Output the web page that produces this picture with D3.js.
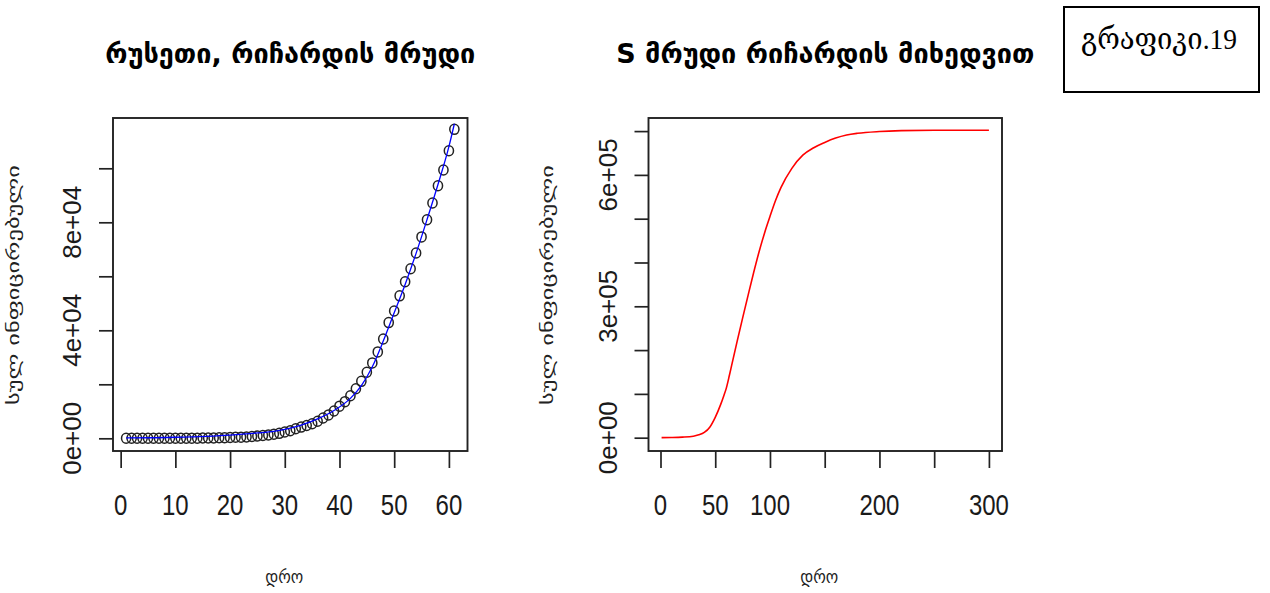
<!DOCTYPE html>
<html><head><meta charset="utf-8">
<script src="https://cdn.jsdelivr.net/npm/d3@7"></script>
<style>body{margin:0;background:#fff}svg{display:block}</style>
</head><body><svg id="c" width="1270" height="593"></svg>
<script>
// Left panel: observed cumulative cases, day index 1..61
const cases = [3,3,3,4,13,13,17,17,20,20,28,45,59,63,90,114,147,199,253,306,367,438,495,658,840,1036,1264,1534,1836,2337,
  2777,3548,4149,4731,5389,6343,7497,8672,10131,11917,13584,15770,18328,21102,24490,27938,32008,36793,42853,47121,
  52763,57999,62773,68622,74588,80949,87147,93558,99399,106498,114431];
// Left panel: fitted Richards curve (blue)
const fitDays = [1,10,20,25,28,30,33,36,39,42,44,46,48,50,52,54,56,58,60,61];
const fitVals = [150,400,1200,2000,2600,3300,4900,7200,10300,14800,19500,26500,36000,46500,57000,68500,81000,94000,108000,116500];
// Right panel: S curve (red)
const sDays = [1,10,20,30,35,40,45,50,55,58,60,63,65,70,75,80,85,90,95,100,105,110,120,130,140,150,160,170,180,200,220,250,300];
const sVals = [150,400,1200,3300,6500,12000,24000,46500,76000,97000,112000,143000,165000,220000,273000,325000,376000,424000,467000,505000,541000,571000,615000,645000,662000,674000,684000,691000,695000,699000,701000,702000,702000];
// Ticks and labels
const leftXTicks = [0,10,20,30,40,50,60];
const leftYTicks = [0,20000,40000,60000,80000,100000];
const leftYLabels = {0:"0e+00",40000:"4e+04",80000:"8e+04"};
const rightXTicks = [0,50,100,150,200,250,300];
const rightXLabels = {0:"0",50:"50",100:"100",200:"200",300:"300"};
const rightYTicks = [0,100000,200000,300000,400000,500000,600000,700000];
const rightYLabels = {0:"0e+00",300000:"3e+05",600000:"6e+05"};
const titles = ["რუსეთი, რიჩარდის მრუდი","S მრუდი რიჩარდის მიხედვით"];
const yTitle = "სულ ინფიცირებული";
const xTitle = "დრო";
const tag = "გრაფიკი.19";

const svg = d3.select("#c");
svg.append("rect").attr("width",1270).attr("height",593).attr("fill","#fff");
const NUM = "'Liberation Sans', Arial, sans-serif";
const GEO = "'DejaVu Sans', sans-serif";

function panel(o){
  const g = svg.append("g");
  const x = d3.scaleLinear().domain(o.xd).range([o.L,o.R]);
  const y = d3.scaleLinear().domain(o.yd).range([o.B,o.T]);
  const xa = d3.axisBottom(x).tickValues(o.xt).tickSize(17).tickFormat("");
  const gx = g.append("g").attr("transform",`translate(0,${o.B})`).call(xa);
  gx.select(".domain").remove();
  gx.selectAll("line").attr("stroke","#222").attr("stroke-width",1.7);
  o.xt.forEach(v=>{
    const lab = o.xl ? o.xl[v] : String(v);
    if(lab===undefined) return;
    g.append("text").attr("transform",`translate(${x(v)},515) scale(1,1.22)`)
      .attr("text-anchor","middle").attr("font-family",NUM).attr("font-size",24).attr("fill","#1a1a1a").text(lab);
  });
  const ya = d3.axisLeft(y).tickValues(o.yt).tickSize(14).tickFormat("");
  const gy = g.append("g").attr("transform",`translate(${o.L},0)`).call(ya);
  gy.select(".domain").remove();
  gy.selectAll("line").attr("stroke","#222").attr("stroke-width",1.7);
  o.yt.forEach(v=>{
    const lab = o.yl[v];
    if(lab===undefined) return;
    g.append("text").attr("transform",`translate(${o.L-32},${y(v)}) rotate(-90)`)
      .attr("text-anchor","middle").attr("font-family",NUM).attr("font-size",26).attr("fill","#1a1a1a").text(lab);
  });
  g.append("rect").attr("x",o.L).attr("y",o.T).attr("width",o.R-o.L).attr("height",o.B-o.T)
    .attr("fill","none").attr("stroke","#222").attr("stroke-width",1.9);
  g.append("text").attr("x",(o.L+o.R)/2).attr("y",63).attr("text-anchor","middle")
    .attr("font-family",GEO).attr("font-weight","bold").attr("font-size",27)
    .attr("textLength",o.titleLen).attr("lengthAdjust","spacingAndGlyphs").attr("fill","#000").text(o.title);
  g.append("text").attr("x",(o.L+o.R)/2-6).attr("y",583).attr("text-anchor","middle")
    .attr("font-family",GEO).attr("font-size",18).attr("textLength",38).attr("lengthAdjust","spacingAndGlyphs")
    .attr("fill","#222").text(xTitle);
  g.append("text").attr("transform",`translate(${o.yTitleX},285) rotate(-90)`).attr("text-anchor","middle")
    .attr("dominant-baseline","central").attr("font-family",GEO).attr("font-size",16)
    .attr("textLength",240).attr("lengthAdjust","spacingAndGlyphs").attr("fill","#222").text(yTitle);
  return {g,x,y};
}

const P1 = panel({L:113,R:467.5,T:118,B:451,xd:[-1.4,63.4],yd:[-4700,118630],
  xt:leftXTicks,yt:leftYTicks,yl:leftYLabels,title:titles[0],titleLen:370,yTitleX:13});
P1.g.selectAll("ellipse.pt").data(cases).join("ellipse").attr("class","pt")
  .attr("cx",(d,i)=>P1.x(i+1)).attr("cy",d=>P1.y(d)).attr("rx",4.6).attr("ry",5)
  .attr("fill","none").attr("stroke","#222").attr("stroke-width",1.5);
P1.g.append("path").datum(fitDays.map((d,i)=>[d,fitVals[i]]))
  .attr("d",d3.line().x(d=>P1.x(d[0])).y(d=>P1.y(d[1])).curve(d3.curveMonotoneX))
  .attr("fill","none").attr("stroke","#0000ff").attr("stroke-width",1.3);

const P2 = panel({L:648.5,R:1002,T:118,B:451,xd:[-10.96,311.96],yd:[-30400,729900],
  xt:rightXTicks,xl:rightXLabels,yt:rightYTicks,yl:rightYLabels,title:titles[1],titleLen:418,yTitleX:547});
P2.g.append("path").datum(sDays.map((d,i)=>[d,sVals[i]]))
  .attr("d",d3.line().x(d=>P2.x(d[0])).y(d=>P2.y(d[1])).curve(d3.curveMonotoneX))
  .attr("fill","none").attr("stroke","#ff0000").attr("stroke-width",1.6);

svg.append("rect").attr("x",1064).attr("y",7).attr("width",195).attr("height",85)
  .attr("fill","none").attr("stroke","#000").attr("stroke-width",2);
svg.append("text").attr("x",1081).attr("y",49).attr("font-family","'Liberation Serif','DejaVu Serif',serif")
  .attr("font-size",30).attr("textLength",156).attr("lengthAdjust","spacingAndGlyphs").attr("fill","#000").text(tag);
</script></body></html>
